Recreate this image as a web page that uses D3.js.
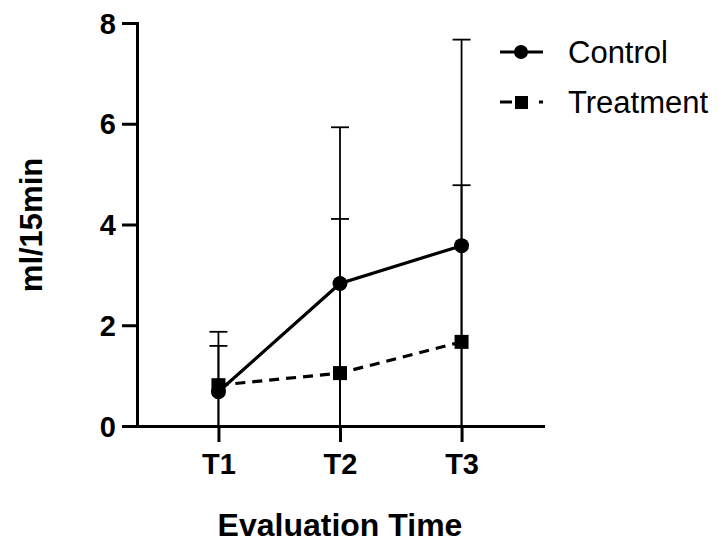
<!DOCTYPE html>
<html>
<head>
<meta charset="utf-8">
<script src="https://cdn.jsdelivr.net/npm/d3@7"></script>
<style>
  html, body { margin: 0; padding: 0; background: #fff; }
  svg { display: block; font-family: "Liberation Sans", Arial, Helvetica, sans-serif; }
</style>
</head>
<body>
<svg id="chart" width="719" height="543"></svg>
<script>
// ---- data ----
const categories = ["T1", "T2", "T3"];
const controlMean = [0.68, 2.83, 3.58];
const controlSD = [0.91, 3.10, 4.09];
const treatmentMean = [0.81, 1.05, 1.67];
const treatmentSD = [1.06, 3.06, 3.11];
const yTicks = [0, 2, 4, 6, 8];
const seriesNames = ["Control", "Treatment"];
const xTitle = "Evaluation Time";
const yTitle = "ml/15min";

const svg = d3.select("#chart");

const x = d3.scalePoint().domain(categories).range([137, 543]).padding(0.67);
const y = d3.scaleLinear().domain([0, 8]).range([426, 23]);

// error bars
function drawErrors(means, sds) {
  const g = svg.append("g").attr("stroke", "#000").attr("stroke-width", 1.8).attr("fill", "none");
  categories.forEach((c, i) => {
    const hi = means[i] + sds[i];
    const lo = Math.max(0, means[i] - sds[i]);
    const cx = x(c);
    g.append("line").attr("x1", cx).attr("x2", cx).attr("y1", y(lo)).attr("y2", y(hi));
    g.append("line").attr("x1", cx - 9).attr("x2", cx + 9).attr("y1", y(hi)).attr("y2", y(hi));
    if (means[i] - sds[i] > 0) {
      g.append("line").attr("x1", cx - 9).attr("x2", cx + 9).attr("y1", y(lo)).attr("y2", y(lo));
    }
  });
}
drawErrors(controlMean, controlSD);
drawErrors(treatmentMean, treatmentSD);

// axes
const yAxis = d3.axisLeft(y).tickValues(yTicks).tickSize(15).tickSizeOuter(0).tickPadding(6);
const xAxis = d3.axisBottom(x).tickSize(16).tickSizeOuter(0).tickPadding(11);

const gy = svg.append("g").attr("transform", "translate(137,0)").call(yAxis);
const gx = svg.append("g").attr("transform", "translate(0,426)").call(xAxis);
[gx, gy].forEach(g => {
  g.selectAll("path, line").attr("stroke", "#000").attr("stroke-width", 3);
  g.select(".domain").attr("stroke-linecap", "square");
  g.selectAll("text").attr("fill", "#000").attr("font-size", 29).attr("font-weight", "bold")
    .attr("font-family", "'Liberation Sans', Arial, sans-serif");
});
gy.selectAll("text").attr("dy", "0.35em");

// lines
const line = d3.line().x((d, i) => x(categories[i])).y(d => y(d));
svg.append("path").datum(controlMean).attr("d", line)
  .attr("fill", "none").attr("stroke", "#000").attr("stroke-width", 3.2);
svg.append("path").datum(treatmentMean).attr("d", line)
  .attr("fill", "none").attr("stroke", "#000").attr("stroke-width", 3.2).attr("stroke-dasharray", "10,7");

// markers
svg.append("g").selectAll("rect").data(treatmentMean).join("rect")
  .attr("x", (d, i) => x(categories[i]) - 7).attr("y", d => y(d) - 7)
  .attr("width", 14).attr("height", 14).attr("fill", "#000");
svg.append("g").selectAll("circle").data(controlMean).join("circle")
  .attr("cx", (d, i) => x(categories[i])).attr("cy", d => y(d)).attr("r", 7.5).attr("fill", "#000");

// axis titles
svg.append("text").attr("x", 340).attr("y", 536).attr("text-anchor", "middle")
  .attr("font-size", 32).attr("font-weight", "bold").attr("fill", "#000").text(xTitle);
svg.append("text").attr("transform", "translate(42,225) rotate(-90)").attr("text-anchor", "middle")
  .attr("font-size", 31).attr("font-weight", "bold").attr("fill", "#000").text(yTitle);

// legend
const lg = svg.append("g");
lg.append("line").attr("x1", 500).attr("x2", 543).attr("y1", 52).attr("y2", 52)
  .attr("stroke", "#000").attr("stroke-width", 3.2);
lg.append("circle").attr("cx", 521).attr("cy", 52).attr("r", 7).attr("fill", "#000");
lg.append("text").attr("x", 568).attr("y", 63).attr("font-size", 31).attr("fill", "#000").text(seriesNames[0]);

lg.append("line").attr("x1", 500).attr("x2", 543).attr("y1", 102).attr("y2", 102)
  .attr("stroke", "#000").attr("stroke-width", 3.2).attr("stroke-dasharray", "12,27,4");
lg.append("rect").attr("x", 515).attr("y", 96).attr("width", 13).attr("height", 13).attr("fill", "#000");
lg.append("text").attr("x", 568).attr("y", 113).attr("font-size", 31).attr("fill", "#000").text(seriesNames[1]);
</script>
</body>
</html>
